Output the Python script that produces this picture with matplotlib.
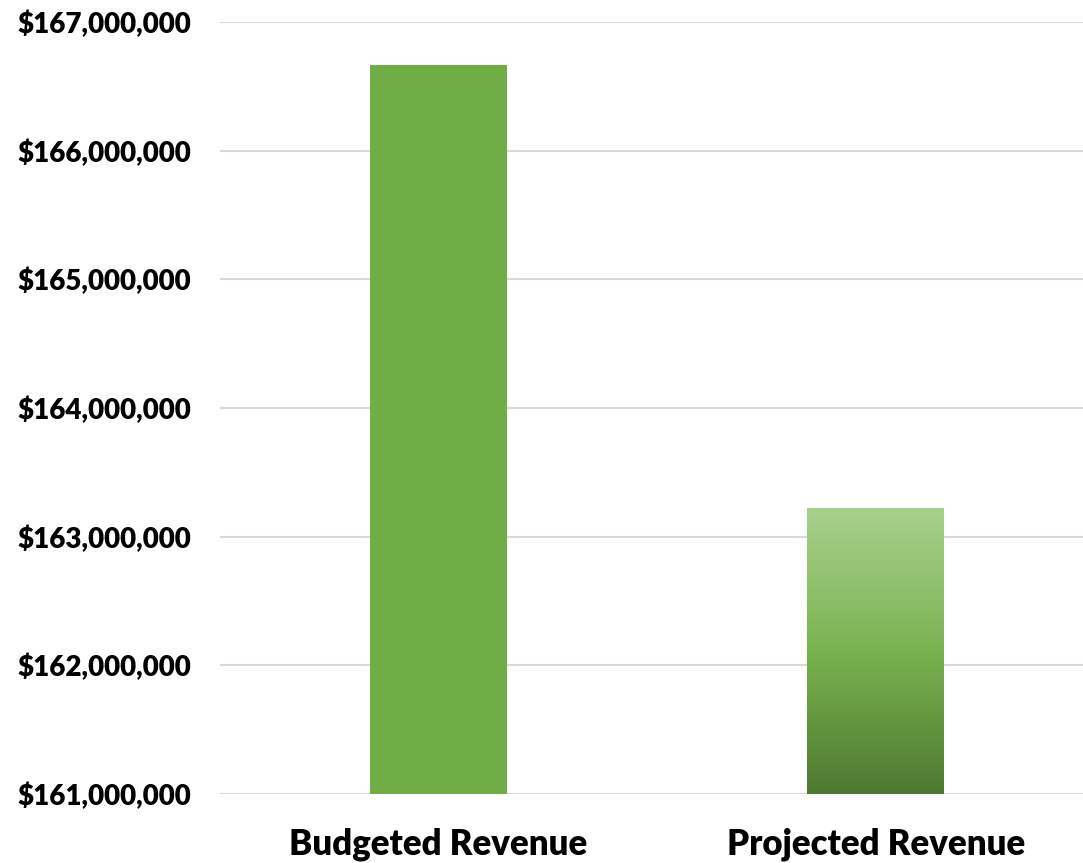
import numpy as np
import matplotlib.pyplot as plt
from matplotlib.colors import LinearSegmentedColormap
from matplotlib.ticker import FuncFormatter

categories = ["Budgeted Revenue", "Projected Revenue"]
revenue = [166_663_000, 163_223_000]
y_ticks = [161_000_000, 162_000_000, 163_000_000, 164_000_000,
           165_000_000, 166_000_000, 167_000_000]

plt.rcParams['font.family'] = ['Lato', 'DejaVu Sans']

fig = plt.figure(figsize=(10.83, 8.63), dpi=100)
ax = fig.add_axes([0.2031, 0.0799, 0.8073, 0.8946])

x = np.arange(len(categories))
bars = ax.bar(x, revenue, width=0.313, color=["#70AD47", "none"],
              bottom=0, zorder=3)

# vertical gradient fill for the projected bar
grad_cmap = LinearSegmentedColormap.from_list(
    "greens", [(0.0, "#4E7A30"), (0.5, "#79B350"), (1.0, "#A9D18E")])
b = bars[1]
grad = np.linspace(0, 1, 256).reshape(-1, 1)
im = ax.imshow(grad, cmap=grad_cmap, origin="lower", aspect="auto",
               extent=[b.get_x(), b.get_x() + b.get_width(),
                       y_ticks[0], b.get_height()], zorder=3)
im.set_clip_path(b)
ax.set_xlim(-0.5, 1.5)
ax.set_ylim(y_ticks[0], y_ticks[-1])

ax.set_yticks(y_ticks)
ax.yaxis.set_major_formatter(FuncFormatter(lambda v, p: f"${v:,.0f}"))
ax.set_xticks(x)
ax.set_xticklabels(categories)
ax.grid(axis="y", color="#D9D9D9", linewidth=1.5, zorder=0)
ax.set_axisbelow(True)

for s in ax.spines.values():
    s.set_visible(False)
ax.tick_params(axis="both", length=0)
ax.tick_params(axis="y", pad=21, labelsize=20)
ax.tick_params(axis="x", pad=24, labelsize=25)
for lbl in ax.get_yticklabels() + ax.get_xticklabels():
    lbl.set_fontweight("heavy")
    lbl.set_color("#000000")

fig.savefig("out.png", dpi=100)
